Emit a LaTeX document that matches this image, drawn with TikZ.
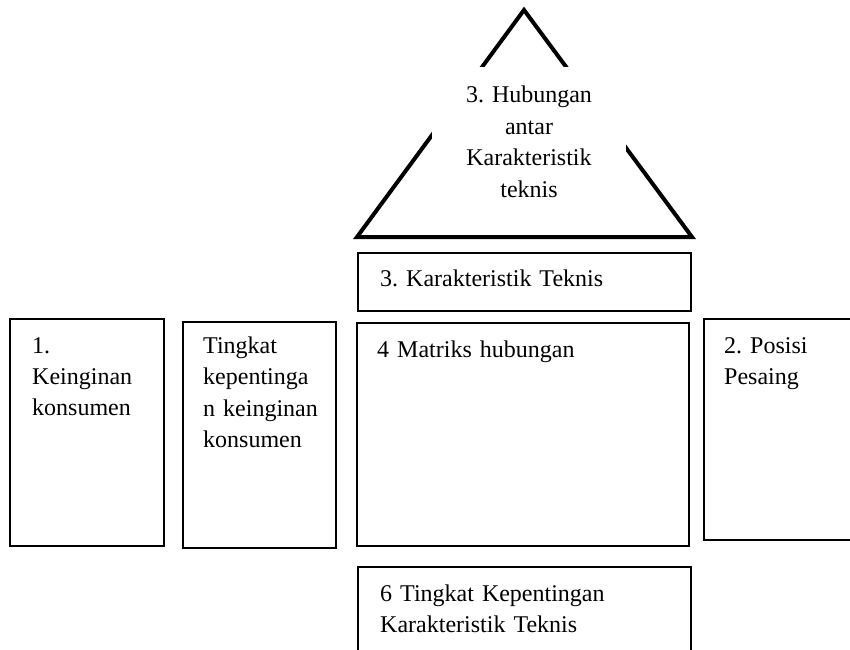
\documentclass[tikz,border=0pt]{standalone}
\usepackage{fontspec}
\setmainfont{Liberation Serif}
\newcommand\myboxfont{\fontsize{24bp}{31bp}\selectfont\frenchspacing\spaceskip=0.25em\relax}
\newcommand\mytrifont{\fontsize{24bp}{31.5bp}\selectfont\frenchspacing\spaceskip=0.25em\relax}
\begin{document}
\begin{tikzpicture}[x=1bp,y=-1bp,
  box/.style={draw=black, line width=2bp, inner sep=0pt, fill=white},
  tri/.style={draw=black, line width=4bp},
  mask/.style={fill=white, draw=none, inner sep=0pt},
  lbl/.style={anchor=base west, inner sep=0pt, align=left, text width=300bp, font=\myboxfont},
  clbl/.style={anchor=base, inner sep=0pt, align=center, text width=194bp, font=\mytrifont}]
\useasboundingbox (0,0) rectangle (850,650);
% triangle
\coordinate (apex) at (524,10);
\coordinate (bl) at (357,237);
\coordinate (br) at (692,237);
\draw[tri] (apex) -- (br) -- (bl) -- cycle;
\node[mask, minimum width=194bp, minimum height=143bp] (hub) at (529,138.5) {};
\node[clbl] (hubtxt) at (529,103) {3. Hubungan\\antar\\Karakteristik\\teknis};
% boxes
\node[box, minimum width=333bp, minimum height=58bp] (kt) at (524.5,282) {};
\node[lbl] (kttxt) at (380,286) {3. Karakteristik Teknis};
\node[box, minimum width=332bp, minimum height=223bp] (mh) at (523,434.5) {};
\node[lbl] (mhtxt) at (377,357) {4 Matriks hubungan};
\node[box, minimum width=166bp, minimum height=221bp] (ps) at (787,429.5) {};
\node[lbl] (pstxt) at (724,353) {2. Posisi\\Pesaing};
\node[box, minimum width=333bp, minimum height=103bp] (tk) at (524.5,618.5) {};
\node[lbl] (tktxt) at (380,601) {6 Tingkat Kepentingan\\Karakteristik Teknis};
\node[box, minimum width=154bp, minimum height=227bp] (kons) at (87,432.5) {};
\node[lbl] (konstxt) at (32,353) {1.\\Keinginan\\konsumen};
\node[box, minimum width=153bp, minimum height=226bp] (tkp) at (259.5,435) {};
\node[lbl, font=\mytrifont] (tkptxt) at (203,353) {Tingkat\\kepentinga\\n keinginan\\konsumen};
\end{tikzpicture}
\end{document}
